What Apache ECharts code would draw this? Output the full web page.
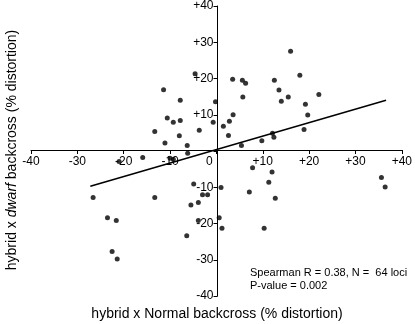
<!DOCTYPE html>
<html>
<head>
<meta charset="utf-8">
<script src="https://cdn.jsdelivr.net/npm/echarts@6/dist/echarts.min.js"></script>
<style>
  html, body { margin: 0; padding: 0; background: #fff; }
  #chart { width: 415px; height: 324px; }
</style>
</head>
<body>
<div id="chart"></div>
<script>
// % distortion, normal backcross (x) vs dwarf backcross (y), 64 loci
var normalDist = [
    -4.6, -11.4, -7.8, -0.2, -10.6, -9.3, -7.8, -0.7, -13.3, -3.7, -8.0, -11.1, -6.3,
    -6.2, -15.9, -10.0, -9.3, -21.0, -4.9, -3.0, -1.9, -13.3, -26.6, -3.9, -5.5, -3.9,
    -6.4, -23.5, -21.6, -22.5, -21.4,
    3.5, 5.6, 6.3, 5.7, 3.6, 2.8, 1.5, 2.6, 5.4, 9.8, 12.1, 12.4, 16.0, 12.5, 13.5,
    14.0, 15.5, 18.0, 19.2, 19.7, 18.9, 22.1,
    1.0, 0.6, 1.2, 7.8, 12.0, 11.3, 7.1, 12.7, 10.3, 35.6, 36.4
];
var dwarfDist = [
    21.3, 16.9, 14.0, 13.6, 9.1, 7.9, 8.4, 7.9, 5.4, 5.7, 4.2, 2.2, 1.5,
    -0.6, -1.8, -2.0, -2.3, -2.9, -9.1, -12.1, -12.1, -12.8, -12.8, -14.2, -14.9, -19.2,
    -23.4, -18.4, -19.2, -27.7, -29.8,
    19.8, 19.5, 18.7, 14.9, 10.0, 8.2, 6.8, 4.3, 1.5, 2.8, 4.9, 3.8, 27.5, 19.5, 16.8,
    13.7, 14.9, 20.9, 12.9, 9.9, 5.9, 15.6,
    -10.1, -18.4, -21.3, -4.6, -5.8, -8.6, -11.3, -13.0, -21.3, -7.3, -9.9
];
// regression line end points
var fitX = [-27.2, 36.6];
var fitY = [-9.7, 14.0];
var statLines = ['Spearman R = 0.38, N =  64 loci', 'P-value = 0.002'];

var chart = echarts.init(document.getElementById('chart'));

var points = [];
for (var i = 0; i < normalDist.length; i++) {
    points.push([normalDist[i], dwarfDist[i]]);
}
var fitLine = [];
for (var j = 0; j < fitX.length; j++) {
    fitLine.push([fitX[j], fitY[j]]);
}

var font = 'Liberation Sans, Arial, sans-serif';
var gLeft = 31, gRight = 11, gTop = 4, gBottom = 28;
var gW = 415 - gLeft - gRight, gH = 324 - gTop - gBottom;

var option = {
    animation: false,
    backgroundColor: '#fff',
    grid: { left: gLeft, right: gRight, top: gTop, bottom: gBottom },
    xAxis: {
        type: 'value',
        position: 'bottom',
        offset: -gH / 2,
        min: -40, max: 40, interval: 10,
        splitLine: { show: false },
        axisLine: { onZero: false, lineStyle: { color: '#000', width: 1 } },
        axisTick: { length: 4, lineStyle: { color: '#000' } },
        axisLabel: {
            color: '#000', fontSize: 12, fontFamily: font, margin: 6,
            formatter: function (v) {
                if (v === 0) return '{z|0}';
                return v > 0 ? '+' + v : String(v);
            },
            rich: { z: { color: '#000', fontSize: 12, fontFamily: font, padding: [0, 14, 0, 0] } }
        }
    },
    yAxis: {
        type: 'value',
        position: 'left',
        offset: -gW / 2,
        min: -40, max: 40, interval: 10,
        splitLine: { show: false },
        axisLine: { onZero: false, lineStyle: { color: '#000', width: 1 } },
        axisTick: { length: 4, lineStyle: { color: '#000' } },
        axisLabel: {
            color: '#000', fontSize: 12, fontFamily: font, margin: 4,
            formatter: function (v) {
                if (v === 0) return '';
                return v > 0 ? '+' + v : String(v);
            }
        }
    },
    series: [
        {
            type: 'scatter',
            data: points,
            symbol: 'circle',
            symbolSize: 5,
            itemStyle: { color: '#000' }
        },
        {
            type: 'line',
            data: fitLine,
            symbol: 'none',
            lineStyle: { color: '#000', width: 1.5 }
        }
    ],
    graphic: [
        {
            type: 'text', x: 217, y: 314,
            style: {
                text: 'hybrid x Normal backcross (% distortion)',
                font: '14px ' + font, fill: '#000',
                align: 'center', verticalAlign: 'middle'
            }
        },
        {
            type: 'text', x: 12, y: 150, rotation: Math.PI / 2,
            style: {
                text: '{a|hybrid x }{i|dwarf}{a| backcross (% distortion)}',
                fill: '#000', align: 'center', verticalAlign: 'middle',
                rich: {
                    a: { fontSize: 14, fontFamily: font, color: '#000' },
                    i: { fontSize: 14, fontFamily: font, fontStyle: 'italic', color: '#000' }
                }
            }
        },
        {
            type: 'text', x: 250, y: 266,
            style: {
                text: statLines.join('\n'),
                font: '11px ' + font, fill: '#000', lineHeight: 13
            }
        }
    ]
};

chart.setOption(option);
</script>
</body>
</html>
